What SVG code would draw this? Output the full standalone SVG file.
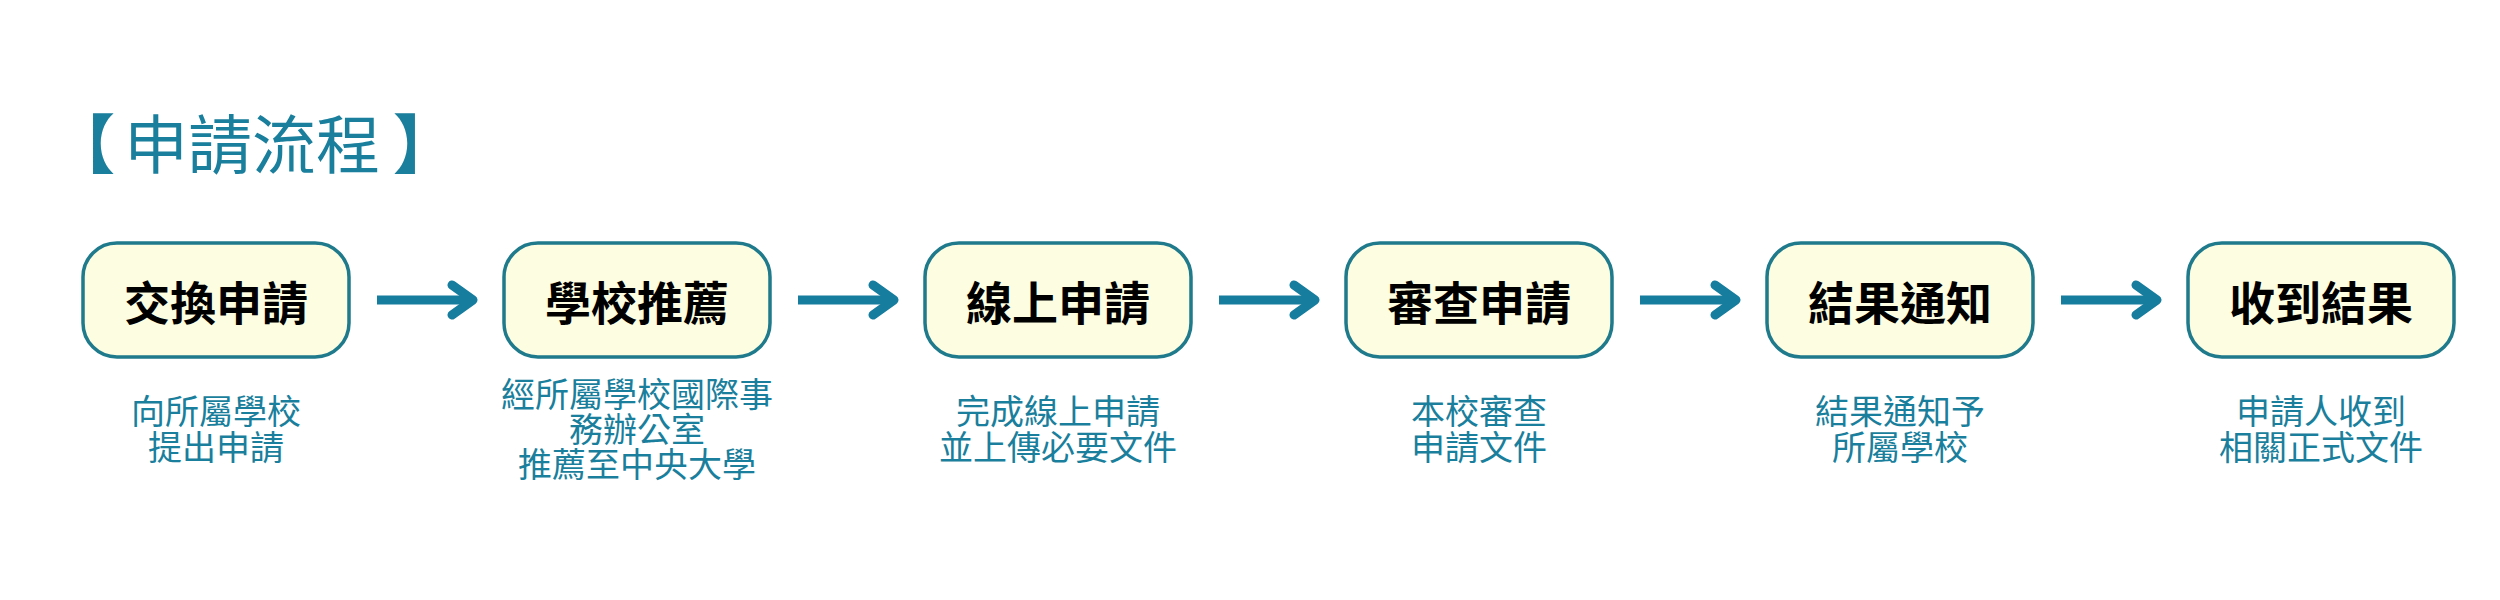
<svg xmlns="http://www.w3.org/2000/svg" width="2500" height="600" viewBox="0 0 2500 600">
<defs>
<style>
.bg{fill:#ffffff}
.title{font-family:"Noto Sans CJK TC","Noto Sans CJK SC",sans-serif;font-size:64px;fill:#1a7f9c;font-weight:400;dominant-baseline:central}
.br{font-weight:900}
.box{fill:#fdfde1;stroke:#1f7a8c;stroke-width:3.5}
.label{font-family:"Noto Sans CJK TC","Noto Sans CJK SC",sans-serif;font-size:46px;font-weight:700;fill:#000000;text-anchor:middle;dominant-baseline:central}
.desc{font-family:"Noto Sans CJK TC","Noto Sans CJK SC",sans-serif;font-size:34px;fill:#1a7f9c;text-anchor:middle;dominant-baseline:central}
.conn{fill:none;stroke:#167d9e;stroke-width:9;marker-end:url(#chev)}
</style>
<marker id="chev" markerUnits="userSpaceOnUse" viewBox="-30 -20 40 40" markerWidth="40" markerHeight="40" refX="0" refY="0" orient="auto">
<path d="M-21,-15 L0,0 L-21,15" fill="none" stroke="#167d9e" stroke-width="9" stroke-linecap="round" stroke-linejoin="round"/>
</marker>
</defs>
<rect class="bg" x="0" y="0" width="2500" height="600"/>
<text class="title" y="140"><tspan class="br" x="51">【</tspan><tspan x="124">申請流程</tspan><tspan class="br" x="393">】</tspan></text>

<g id="connectors">
<path class="conn" d="M377,300 H473"/>
<path class="conn" d="M798,300 H894"/>
<path class="conn" d="M1219,300 H1315"/>
<path class="conn" d="M1640,300 H1736"/>
<path class="conn" d="M2061,300 H2157"/>
</g>

<g id="node1">
<rect class="box" x="83" y="243" width="266" height="114" rx="34"/>
<text class="label" x="216" y="300">交換申請</text>
<text class="desc" x="216" y="409">向所屬學校</text>
<text class="desc" x="216" y="445">提出申請</text>
</g>
<g id="node2">
<rect class="box" x="504" y="243" width="266" height="114" rx="34"/>
<text class="label" x="637" y="300">學校推薦</text>
<text class="desc" x="637" y="392">經所屬學校國際事</text>
<text class="desc" x="637" y="427">務辦公室</text>
<text class="desc" x="637" y="462">推薦至中央大學</text>
</g>
<g id="node3">
<rect class="box" x="925" y="243" width="266" height="114" rx="34"/>
<text class="label" x="1058" y="300">線上申請</text>
<text class="desc" x="1058" y="409">完成線上申請</text>
<text class="desc" x="1058" y="445">並上傳必要文件</text>
</g>
<g id="node4">
<rect class="box" x="1346" y="243" width="266" height="114" rx="34"/>
<text class="label" x="1479" y="300">審查申請</text>
<text class="desc" x="1479" y="409">本校審查</text>
<text class="desc" x="1479" y="445">申請文件</text>
</g>
<g id="node5">
<rect class="box" x="1767" y="243" width="266" height="114" rx="34"/>
<text class="label" x="1900" y="300">結果通知</text>
<text class="desc" x="1900" y="409">結果通知予</text>
<text class="desc" x="1900" y="445">所屬學校</text>
</g>
<g id="node6">
<rect class="box" x="2188" y="243" width="266" height="114" rx="34"/>
<text class="label" x="2321" y="300">收到結果</text>
<text class="desc" x="2321" y="409">申請人收到</text>
<text class="desc" x="2321" y="445">相關正式文件</text>
</g>
</svg>
